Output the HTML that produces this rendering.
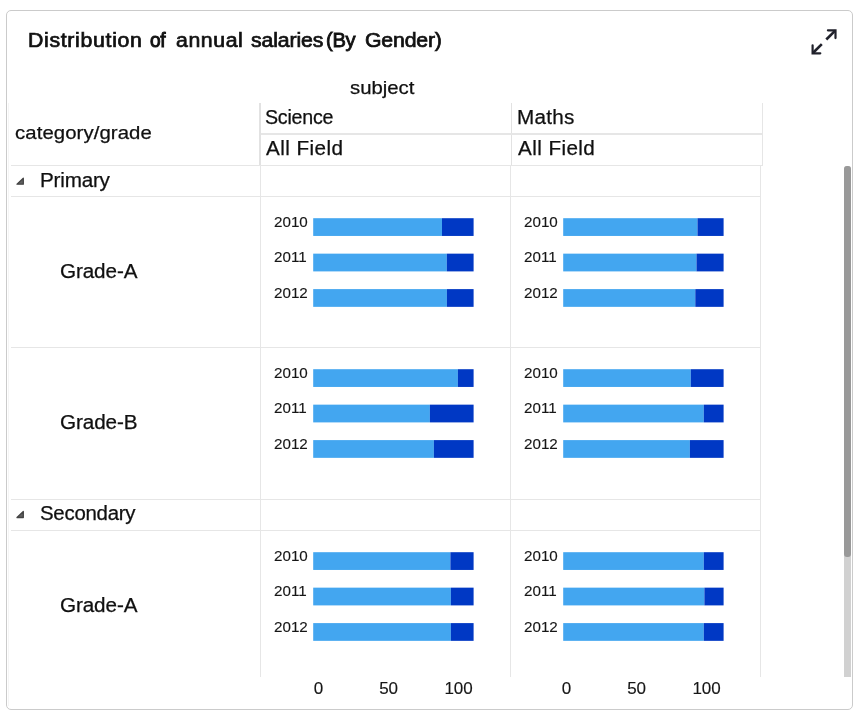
<!DOCTYPE html>
<html lang="en">
<head>
<meta charset="utf-8">
<title>Distribution of annual salaries(By Gender)</title>
<style>
html,body{margin:0;padding:0;background:#fff;}
body{width:863px;height:719px;position:relative;overflow:hidden;font-family:"Liberation Sans",sans-serif;color:#212121;}
.card{position:absolute;left:6px;top:10px;width:845px;height:698px;border:1px solid #cbcbcb;border-radius:5px;background:#fff;}
.t{position:absolute;white-space:nowrap;line-height:1;margin:0;padding:0;transform-origin:0 0;}
.n{font-size:19.5px;color:#101010;-webkit-text-stroke:0.25px #101010;}
.title{font-size:19.5px;font-weight:400;color:#111;-webkit-text-stroke:0.7px #111;}
.ttl{position:absolute;left:0;top:0;margin:0;}
.l{position:absolute;background:#e6e6e6;}
.yr{font-size:15.5px;transform:scaleX(0.98);color:#161616;-webkit-text-stroke:0.15px #161616;}
.ax{font-size:17px;color:#161616;-webkit-text-stroke:0.15px #161616;}
.clip{position:absolute;left:0;top:0;width:863px;height:677px;overflow:hidden;}
</style>
</head>
<body>
<div class="card"></div>

<div class="ttl"><span class="t title" style="left:27.61px;top:31.0px;letter-spacing:0.631px;font-size:19.5px;transform:scaleX(1.09);">Distribution</span> <span class="t title" style="left:150.1px;top:31.0px;letter-spacing:-0.25px;font-size:19.5px;transform:scaleX(0.9791);-webkit-text-stroke-width:0.98px;">of</span> <span class="t title" style="left:175.6px;top:31.0px;letter-spacing:0.547px;font-size:19.5px;transform:scaleX(1.09);">annual</span> <span class="t title" style="left:250.7px;top:31.0px;letter-spacing:-0.109px;font-size:19.5px;transform:scaleX(1.09);">salaries</span><span class="t title" style="left:325.57px;top:31.0px;letter-spacing:-0.25px;font-size:19.5px;transform:scaleX(1.0327);-webkit-text-stroke-width:0.84px;">(By</span> <span class="t title" style="left:365.01px;top:31.0px;letter-spacing:-0.168px;font-size:19.5px;transform:scaleX(1.09);">Gender)</span></div>
<svg style="position:absolute;left:804px;top:22px" width="40" height="40" viewBox="0 0 40 40" fill="none" stroke="#20212b" stroke-width="2.2" stroke-linecap="round" stroke-linejoin="miter">
<path d="M23.9 8.3H31.5V16.1"/><path d="M31.2 8.6L22.3 17.5" stroke-width="2.6" stroke-linecap="butt"/>
<path d="M8.6 23.3V31.3H16.3"/><path d="M8.9 31L17.8 22.1" stroke-width="2.6" stroke-linecap="butt"/>
</svg>
<div class="l" style="left:8px;top:103px;width:1px;height:603px;background:#f5f5f5"></div>
<div class="clip">
<div class="t n" style="left:349.6px;top:79.0px;letter-spacing:-0.03px;font-size:18.5px;transform:scaleX(1.1);">subject</div>
<div class="l" style="left:259px;top:103px;width:2px;height:62px;background:#e2e2e2"></div>
<div class="l" style="left:511px;top:103px;width:1px;height:62px;background:#e2e2e2"></div>
<div class="l" style="left:762px;top:103px;width:1px;height:63px;background:#e6e6e6"></div>
<div class="l" style="left:261px;top:133px;width:501px;height:2px;background:#e6e6e6"></div>
<div class="l" style="left:11px;top:165px;width:752px;height:1px"></div>
<div class="l" style="left:11px;top:196px;width:750px;height:1px"></div>
<div class="l" style="left:11px;top:347px;width:750px;height:1px"></div>
<div class="l" style="left:11px;top:499px;width:750px;height:1px"></div>
<div class="l" style="left:11px;top:530px;width:750px;height:1px"></div>
<div class="l" style="left:260px;top:166px;width:1px;height:511px"></div>
<div class="l" style="left:510px;top:166px;width:1px;height:511px"></div>
<div class="l" style="left:760px;top:166px;width:1px;height:511px"></div>
<div class="t n" style="left:15.4px;top:124.0px;letter-spacing:0.07px;font-size:18.5px;transform:scaleX(1.1);">category/grade</div>
<div class="t n" style="left:265.39px;top:108.0px;letter-spacing:-0.25px;font-size:19.5px;transform:scaleX(1.0075);">Science</div>
<div class="t n" style="left:266.0px;top:139.0px;letter-spacing:0.415px;font-size:19.5px;transform:scaleX(1.06);">All Field</div>
<div class="t n" style="left:516.74px;top:108.0px;letter-spacing:0.269px;font-size:19.5px;transform:scaleX(1.06);">Maths</div>
<div class="t n" style="left:517.8px;top:139.0px;letter-spacing:0.392px;font-size:19.5px;transform:scaleX(1.06);">All Field</div>
<div class="t n" style="left:40.14px;top:171.0px;letter-spacing:-0.198px;font-size:19.5px;transform:scaleX(1.06);">Primary</div>
<div class="t n" style="left:39.85px;top:504.0px;letter-spacing:-0.25px;font-size:19.5px;transform:scaleX(1.0467);">Secondary</div>
<div class="t n" style="left:59.94px;top:262.0px;letter-spacing:-0.107px;font-size:19.5px;transform:scaleX(1.06);">Grade-A</div>
<div class="t n" style="left:59.94px;top:413.0px;letter-spacing:-0.097px;font-size:19.5px;transform:scaleX(1.06);">Grade-B</div>
<div class="t n" style="left:59.94px;top:596.0px;letter-spacing:-0.107px;font-size:19.5px;transform:scaleX(1.06);">Grade-A</div>
<svg style="position:absolute;left:14px;top:174px" width="14" height="14" viewBox="0 0 14 14"><path transform="translate(0,0)" d="M3 10.2L9.3 10.2L9.3 4.2Z" fill="#606060" stroke="#444" stroke-width="1.3" stroke-linejoin="round"/></svg>
<svg style="position:absolute;left:14px;top:508px" width="14" height="14" viewBox="0 0 14 14"><path transform="translate(0,-0.7)" d="M3 10.2L9.3 10.2L9.3 4.2Z" fill="#606060" stroke="#444" stroke-width="1.3" stroke-linejoin="round"/></svg>
<svg style="position:absolute;left:0;top:0" width="863" height="677" viewBox="0 0 863 677">
<rect x="313.20" y="218.20" width="128.80" height="17.75" fill="#43a6f0"/><rect x="442.00" y="218.20" width="31.60" height="17.75" fill="#0038c4"/>
<rect x="313.20" y="253.65" width="133.60" height="17.75" fill="#43a6f0"/><rect x="446.80" y="253.65" width="26.80" height="17.75" fill="#0038c4"/>
<rect x="313.20" y="289.10" width="133.70" height="17.75" fill="#43a6f0"/><rect x="446.90" y="289.10" width="26.70" height="17.75" fill="#0038c4"/>
<rect x="563.20" y="218.20" width="134.30" height="17.75" fill="#43a6f0"/><rect x="697.50" y="218.20" width="26.10" height="17.75" fill="#0038c4"/>
<rect x="563.20" y="253.65" width="133.30" height="17.75" fill="#43a6f0"/><rect x="696.50" y="253.65" width="27.10" height="17.75" fill="#0038c4"/>
<rect x="563.20" y="289.10" width="132.10" height="17.75" fill="#43a6f0"/><rect x="695.30" y="289.10" width="28.30" height="17.75" fill="#0038c4"/>
<rect x="313.20" y="369.20" width="144.70" height="17.75" fill="#43a6f0"/><rect x="457.90" y="369.20" width="15.70" height="17.75" fill="#0038c4"/>
<rect x="313.20" y="404.65" width="116.70" height="17.75" fill="#43a6f0"/><rect x="429.90" y="404.65" width="43.70" height="17.75" fill="#0038c4"/>
<rect x="313.20" y="440.10" width="120.70" height="17.75" fill="#43a6f0"/><rect x="433.90" y="440.10" width="39.70" height="17.75" fill="#0038c4"/>
<rect x="563.20" y="369.20" width="127.60" height="17.75" fill="#43a6f0"/><rect x="690.80" y="369.20" width="32.80" height="17.75" fill="#0038c4"/>
<rect x="563.20" y="404.65" width="140.60" height="17.75" fill="#43a6f0"/><rect x="703.80" y="404.65" width="19.80" height="17.75" fill="#0038c4"/>
<rect x="563.20" y="440.10" width="126.70" height="17.75" fill="#43a6f0"/><rect x="689.90" y="440.10" width="33.70" height="17.75" fill="#0038c4"/>
<rect x="313.20" y="552.20" width="137.20" height="17.75" fill="#43a6f0"/><rect x="450.40" y="552.20" width="23.20" height="17.75" fill="#0038c4"/>
<rect x="313.20" y="587.65" width="137.70" height="17.75" fill="#43a6f0"/><rect x="450.90" y="587.65" width="22.70" height="17.75" fill="#0038c4"/>
<rect x="313.20" y="623.10" width="137.70" height="17.75" fill="#43a6f0"/><rect x="450.90" y="623.10" width="22.70" height="17.75" fill="#0038c4"/>
<rect x="563.20" y="552.20" width="140.60" height="17.75" fill="#43a6f0"/><rect x="703.80" y="552.20" width="19.80" height="17.75" fill="#0038c4"/>
<rect x="563.20" y="587.65" width="141.20" height="17.75" fill="#43a6f0"/><rect x="704.40" y="587.65" width="19.20" height="17.75" fill="#0038c4"/>
<rect x="563.20" y="623.10" width="140.60" height="17.75" fill="#43a6f0"/><rect x="703.80" y="623.10" width="19.80" height="17.75" fill="#0038c4"/>
</svg>
<div class="t yr" style="left:273.5px;top:214px">2010</div>
<div class="t yr" style="left:273.5px;top:249px">2011</div>
<div class="t yr" style="left:273.5px;top:285px">2012</div>
<div class="t yr" style="left:523.5px;top:214px">2010</div>
<div class="t yr" style="left:523.5px;top:249px">2011</div>
<div class="t yr" style="left:523.5px;top:285px">2012</div>
<div class="t yr" style="left:273.5px;top:365px">2010</div>
<div class="t yr" style="left:273.5px;top:400px">2011</div>
<div class="t yr" style="left:273.5px;top:436px">2012</div>
<div class="t yr" style="left:523.5px;top:365px">2010</div>
<div class="t yr" style="left:523.5px;top:400px">2011</div>
<div class="t yr" style="left:523.5px;top:436px">2012</div>
<div class="t yr" style="left:273.5px;top:548px">2010</div>
<div class="t yr" style="left:273.5px;top:583px">2011</div>
<div class="t yr" style="left:273.5px;top:619px">2012</div>
<div class="t yr" style="left:523.5px;top:548px">2010</div>
<div class="t yr" style="left:523.5px;top:583px">2011</div>
<div class="t yr" style="left:523.5px;top:619px">2012</div>
<div style="position:absolute;left:844px;top:166px;width:7px;height:511px;background:#d1d1d1;border-radius:3px 3px 0 0"></div>
<div style="position:absolute;left:844px;top:166px;width:7px;height:391px;background:#999;border-radius:3px"></div>
</div>
<div class="t ax" style="left:288.5px;width:60px;text-align:center;top:680px">0</div>
<div class="t ax" style="left:358.6px;width:60px;text-align:center;top:680px">50</div>
<div class="t ax" style="left:428.6px;width:60px;text-align:center;top:680px">100</div>
<div class="t ax" style="left:536.5px;width:60px;text-align:center;top:680px">0</div>
<div class="t ax" style="left:606.6px;width:60px;text-align:center;top:680px">50</div>
<div class="t ax" style="left:676.6px;width:60px;text-align:center;top:680px">100</div>
</body>
</html>
